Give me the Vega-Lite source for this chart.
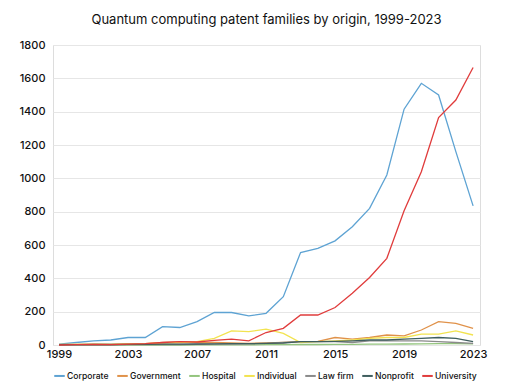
{
  "$schema": "https://vega.github.io/schema/vega-lite/v6.json",
  "width": 427,
  "height": 300,
  "autosize": "none",
  "padding": {"left": 53, "top": 45, "right": 51, "bottom": 42},
  "background": "white",
  "title": {"text": "Quantum computing patent families by origin, 1999-2023", "fontSize": 13, "fontWeight": "normal", "font": "Inter", "color": "#111", "offset": 12, "anchor": "middle"},
  "data": {"values": [
    {"year":1999,"origin":"Corporate","n":5},{"year":2000,"origin":"Corporate","n":15},{"year":2001,"origin":"Corporate","n":25},{"year":2002,"origin":"Corporate","n":30},{"year":2003,"origin":"Corporate","n":45},{"year":2004,"origin":"Corporate","n":45},{"year":2005,"origin":"Corporate","n":110},{"year":2006,"origin":"Corporate","n":105},{"year":2007,"origin":"Corporate","n":140},{"year":2008,"origin":"Corporate","n":195},{"year":2009,"origin":"Corporate","n":195},{"year":2010,"origin":"Corporate","n":175},{"year":2011,"origin":"Corporate","n":190},{"year":2012,"origin":"Corporate","n":290},{"year":2013,"origin":"Corporate","n":555},{"year":2014,"origin":"Corporate","n":580},{"year":2015,"origin":"Corporate","n":625},{"year":2016,"origin":"Corporate","n":710},{"year":2017,"origin":"Corporate","n":820},{"year":2018,"origin":"Corporate","n":1020},{"year":2019,"origin":"Corporate","n":1415},{"year":2020,"origin":"Corporate","n":1570},{"year":2021,"origin":"Corporate","n":1500},{"year":2022,"origin":"Corporate","n":1160},{"year":2023,"origin":"Corporate","n":835},
    {"year":1999,"origin":"Government","n":2},{"year":2000,"origin":"Government","n":3},{"year":2001,"origin":"Government","n":4},{"year":2002,"origin":"Government","n":3},{"year":2003,"origin":"Government","n":6},{"year":2004,"origin":"Government","n":8},{"year":2005,"origin":"Government","n":15},{"year":2006,"origin":"Government","n":18},{"year":2007,"origin":"Government","n":15},{"year":2008,"origin":"Government","n":15},{"year":2009,"origin":"Government","n":12},{"year":2010,"origin":"Government","n":10},{"year":2011,"origin":"Government","n":12},{"year":2012,"origin":"Government","n":15},{"year":2013,"origin":"Government","n":20},{"year":2014,"origin":"Government","n":22},{"year":2015,"origin":"Government","n":45},{"year":2016,"origin":"Government","n":35},{"year":2017,"origin":"Government","n":45},{"year":2018,"origin":"Government","n":60},{"year":2019,"origin":"Government","n":55},{"year":2020,"origin":"Government","n":90},{"year":2021,"origin":"Government","n":140},{"year":2022,"origin":"Government","n":130},{"year":2023,"origin":"Government","n":100},
    {"year":1999,"origin":"Hospital","n":0},{"year":2000,"origin":"Hospital","n":0},{"year":2001,"origin":"Hospital","n":0},{"year":2002,"origin":"Hospital","n":0},{"year":2003,"origin":"Hospital","n":0},{"year":2004,"origin":"Hospital","n":0},{"year":2005,"origin":"Hospital","n":0},{"year":2006,"origin":"Hospital","n":0},{"year":2007,"origin":"Hospital","n":1},{"year":2008,"origin":"Hospital","n":1},{"year":2009,"origin":"Hospital","n":1},{"year":2010,"origin":"Hospital","n":1},{"year":2011,"origin":"Hospital","n":2},{"year":2012,"origin":"Hospital","n":2},{"year":2013,"origin":"Hospital","n":3},{"year":2014,"origin":"Hospital","n":3},{"year":2015,"origin":"Hospital","n":4},{"year":2016,"origin":"Hospital","n":4},{"year":2017,"origin":"Hospital","n":5},{"year":2018,"origin":"Hospital","n":5},{"year":2019,"origin":"Hospital","n":6},{"year":2020,"origin":"Hospital","n":7},{"year":2021,"origin":"Hospital","n":8},{"year":2022,"origin":"Hospital","n":8},{"year":2023,"origin":"Hospital","n":7},
    {"year":1999,"origin":"Individual","n":3},{"year":2000,"origin":"Individual","n":4},{"year":2001,"origin":"Individual","n":5},{"year":2002,"origin":"Individual","n":4},{"year":2003,"origin":"Individual","n":6},{"year":2004,"origin":"Individual","n":8},{"year":2005,"origin":"Individual","n":12},{"year":2006,"origin":"Individual","n":15},{"year":2007,"origin":"Individual","n":20},{"year":2008,"origin":"Individual","n":40},{"year":2009,"origin":"Individual","n":85},{"year":2010,"origin":"Individual","n":80},{"year":2011,"origin":"Individual","n":95},{"year":2012,"origin":"Individual","n":70},{"year":2013,"origin":"Individual","n":15},{"year":2014,"origin":"Individual","n":20},{"year":2015,"origin":"Individual","n":25},{"year":2016,"origin":"Individual","n":30},{"year":2017,"origin":"Individual","n":40},{"year":2018,"origin":"Individual","n":45},{"year":2019,"origin":"Individual","n":45},{"year":2020,"origin":"Individual","n":65},{"year":2021,"origin":"Individual","n":65},{"year":2022,"origin":"Individual","n":85},{"year":2023,"origin":"Individual","n":60},
    {"year":1999,"origin":"Law firm","n":0},{"year":2000,"origin":"Law firm","n":1},{"year":2001,"origin":"Law firm","n":1},{"year":2002,"origin":"Law firm","n":1},{"year":2003,"origin":"Law firm","n":2},{"year":2004,"origin":"Law firm","n":2},{"year":2005,"origin":"Law firm","n":3},{"year":2006,"origin":"Law firm","n":3},{"year":2007,"origin":"Law firm","n":4},{"year":2008,"origin":"Law firm","n":5},{"year":2009,"origin":"Law firm","n":6},{"year":2010,"origin":"Law firm","n":7},{"year":2011,"origin":"Law firm","n":10},{"year":2012,"origin":"Law firm","n":15},{"year":2013,"origin":"Law firm","n":20},{"year":2014,"origin":"Law firm","n":20},{"year":2015,"origin":"Law firm","n":20},{"year":2016,"origin":"Law firm","n":15},{"year":2017,"origin":"Law firm","n":25},{"year":2018,"origin":"Law firm","n":25},{"year":2019,"origin":"Law firm","n":25},{"year":2020,"origin":"Law firm","n":25},{"year":2021,"origin":"Law firm","n":20},{"year":2022,"origin":"Law firm","n":15},{"year":2023,"origin":"Law firm","n":10},
    {"year":1999,"origin":"Nonprofit","n":2},{"year":2000,"origin":"Nonprofit","n":2},{"year":2001,"origin":"Nonprofit","n":3},{"year":2002,"origin":"Nonprofit","n":3},{"year":2003,"origin":"Nonprofit","n":4},{"year":2004,"origin":"Nonprofit","n":4},{"year":2005,"origin":"Nonprofit","n":5},{"year":2006,"origin":"Nonprofit","n":5},{"year":2007,"origin":"Nonprofit","n":6},{"year":2008,"origin":"Nonprofit","n":7},{"year":2009,"origin":"Nonprofit","n":8},{"year":2010,"origin":"Nonprofit","n":8},{"year":2011,"origin":"Nonprofit","n":10},{"year":2012,"origin":"Nonprofit","n":12},{"year":2013,"origin":"Nonprofit","n":20},{"year":2014,"origin":"Nonprofit","n":20},{"year":2015,"origin":"Nonprofit","n":22},{"year":2016,"origin":"Nonprofit","n":25},{"year":2017,"origin":"Nonprofit","n":30},{"year":2018,"origin":"Nonprofit","n":30},{"year":2019,"origin":"Nonprofit","n":35},{"year":2020,"origin":"Nonprofit","n":40},{"year":2021,"origin":"Nonprofit","n":45},{"year":2022,"origin":"Nonprofit","n":40},{"year":2023,"origin":"Nonprofit","n":20},
    {"year":1999,"origin":"University","n":0},{"year":2000,"origin":"University","n":2},{"year":2001,"origin":"University","n":3},{"year":2002,"origin":"University","n":2},{"year":2003,"origin":"University","n":5},{"year":2004,"origin":"University","n":8},{"year":2005,"origin":"University","n":15},{"year":2006,"origin":"University","n":20},{"year":2007,"origin":"University","n":18},{"year":2008,"origin":"University","n":28},{"year":2009,"origin":"University","n":35},{"year":2010,"origin":"University","n":25},{"year":2011,"origin":"University","n":75},{"year":2012,"origin":"University","n":100},{"year":2013,"origin":"University","n":180},{"year":2014,"origin":"University","n":180},{"year":2015,"origin":"University","n":225},{"year":2016,"origin":"University","n":310},{"year":2017,"origin":"University","n":405},{"year":2018,"origin":"University","n":520},{"year":2019,"origin":"University","n":805},{"year":2020,"origin":"University","n":1040},{"year":2021,"origin":"University","n":1365},{"year":2022,"origin":"University","n":1470},{"year":2023,"origin":"University","n":1665}
  ]},
  "mark": {"type": "line", "strokeWidth": 1.3},
  "encoding": {
    "x": {"field": "year", "type": "quantitative", "title": null,
      "scale": {"domain": [1998.65, 2023.4], "nice": false, "zero": false},
      "axis": {"values": [1999,2003,2007,2011,2015,2019,2023], "format": "d", "grid": false, "domain": false, "ticks": false, "labelPadding": 3, "labelFontSize": 11, "labelFont": "Inter", "labelFontWeight": 500, "labelColor": "#111", "labelOverlap": false}},
    "y": {"field": "n", "type": "quantitative", "title": null,
      "scale": {"domain": [0, 1800], "nice": false},
      "axis": {"values": [0,200,400,600,800,1000,1200,1400,1600,1800], "format": "d", "grid": true, "gridColor": "#e6e6e6", "domain": false, "ticks": false, "labelPadding": 8, "labelFontSize": 11, "labelFont": "Inter", "labelFontWeight": 500, "labelColor": "#111"}},
    "color": {"field": "origin", "type": "nominal", "title": null,
      "scale": {"domain": ["Corporate","Government","Hospital","Individual","Law firm","Nonprofit","University"],
                "range": ["#5ea3d3","#e0924a","#93c47d","#f2e350","#8a8a8a","#3f5e5e","#e03c3c"]},
      "legend": {"orient": "bottom", "direction": "horizontal", "symbolType": "stroke", "symbolSize": 110, "symbolStrokeWidth": 2, "labelFontSize": 8.6, "labelFont": "Inter", "labelFontWeight": 500, "labelColor": "#111", "columnPadding": 4, "offset": 10, "labelOffset": 1}}
  }
}
